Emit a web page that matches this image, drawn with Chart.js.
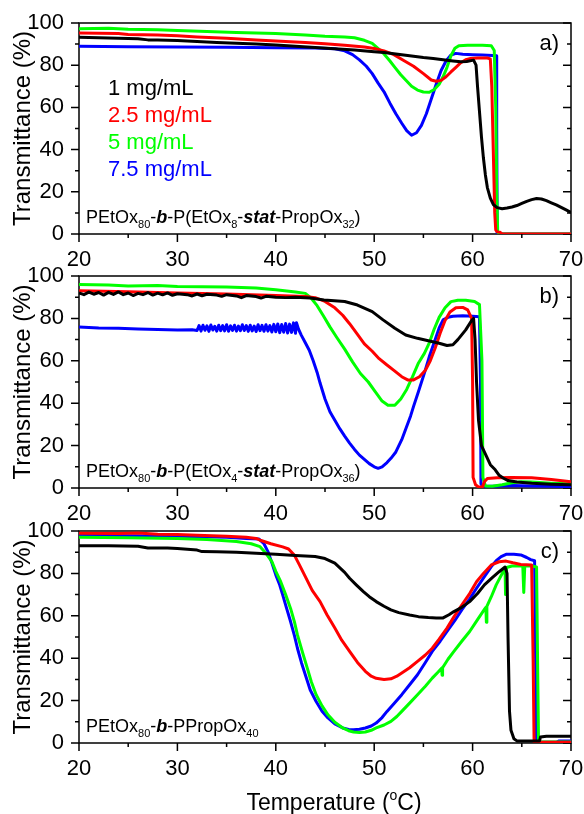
<!DOCTYPE html>
<html>
<head>
<meta charset="utf-8">
<script src="https://cdn.jsdelivr.net/npm/chart.js@4.4.1/dist/chart.umd.min.js"></script>
<style>
  html,body{margin:0;padding:0;background:#fff;}
  body{width:584px;height:814px;position:relative;overflow:hidden;}
  canvas{position:absolute;left:0;}
</style>
</head>
<body>
<canvas id="cA" width="584" height="290" style="top:0px"></canvas>
<canvas id="cB" width="584" height="290" style="top:253px"></canvas>
<canvas id="cC" width="584" height="306" style="top:508px"></canvas>
<script>
// ---------------- DATA ----------------
const xTickLabels = [20, 30, 40, 50, 60, 70];
const yTickLabels = [0, 20, 40, 60, 80, 100];
const concentrations = ['1 mg/mL', '2.5 mg/mL', '5 mg/mL', '7.5 mg/mL'];
const seriesColors = ['#000000', '#ff0000', '#00ff00', '#0000ff'];
const panelLabels = ['a)', 'b)', 'c)'];

// Panel a: PEtOx80-b-P(EtOx8-stat-PropOx32)  [temperature, transmittance]
const a_1mg = [[20,93.2],[22,93],[24,92.8],[26,92.5],[27,92],[28,92],[30,91.7],[32,91.2],[34,90.8],[36,90.4],[38,90],[40,89.6],[42,89],[44,88.4],[46,87.8],[48,87.2],[50,86.4],[51,86],[52,85.4],[53,84.8],[54,84.2],[55,83.6],[56,83.2],[57,82.6],[58,82],[58.8,81.6],[59.4,81.8],[60.1,82.4],[60.35,80],[60.5,70],[60.7,58],[60.9,46],[61.1,36],[61.3,28],[61.5,22],[61.8,17],[62.1,14],[62.5,12.5],[63,12],[63.5,12.3],[64,12.8],[64.5,13.5],[65,14.5],[65.5,15.5],[66,16.3],[66.5,16.8],[67,16.6],[67.5,15.8],[68,14.8],[68.5,13.8],[69,12.6],[69.5,11.4],[70,10.2]];
const a_2_5mg = [[20,95.3],[24,95],[25,94.6],[28,94.3],[30,94],[32,93.4],[35,92.8],[38,92],[40,91.5],[43,90.8],[45,90.2],[47,89.5],[49,88.6],[50,87.9],[51,86.8],[52,85],[53,82.2],[54,79.5],[55,76],[55.8,73],[56.3,72.4],[56.8,72.8],[57.3,74.5],[57.8,76.8],[58.3,79],[58.8,81.2],[59.3,82.6],[59.8,83.2],[60.5,83.4],[61.5,83.4],[61.8,83],[61.95,70],[62.1,40],[62.25,10],[62.35,2],[62.5,1],[62.8,0.8],[63,0],[70,0]];
const a_5mg = [[20,97.3],[23,97.5],[25,97],[28,96.8],[30,96.5],[33,96],[36,95.5],[40,95],[43,94.3],[45,93.7],[47,93.4],[48,93],[49,91.8],[49.8,90.3],[50.5,87.5],[51,85.3],[51.6,82],[52.1,79],[52.7,75.5],[53.2,73],[53.8,70],[54.4,68.2],[55,67.3],[55.6,67.2],[56.1,68.5],[56.6,71],[57,74.5],[57.4,79],[57.8,84.5],[58.2,88],[58.6,89.2],[59.5,89.5],[61,89.5],[61.9,89.2],[62.2,87],[62.35,60],[62.45,20],[62.55,1],[62.7,0],[70,0]];
const a_7_5mg = [[20,89],[25,88.8],[30,88.6],[35,88.5],[40,88.3],[44,88.2],[46,87.8],[47,86.8],[47.8,85],[48.5,82.5],[49.2,79.5],[49.8,76],[50.4,71.5],[51,67.4],[51.6,62],[52.2,57],[52.8,52.5],[53.3,49],[53.8,46.8],[54.3,48],[54.8,51.5],[55.3,57],[55.8,64],[56.3,71],[56.8,77.5],[57.3,82],[57.8,84.8],[58.3,85.6],[59,85.2],[60,85],[61,84.8],[62,84.6],[62.4,84.5],[62.45,50],[62.5,0],[70,0]];

// Panel b: PEtOx80-b-P(EtOx4-stat-PropOx36)
const b_1mg = [[20,92],[20.5,91.2],[21,92.4],[21.5,91.4],[22,92.2],[22.5,91],[23,92.3],[23.5,91.3],[24,92.5],[24.5,91.2],[25,92],[25.5,90.8],[26,91.8],[26.5,91.2],[27,92.2],[27.5,91],[28,91.9],[28.5,91.1],[29,92],[29.5,90.9],[30,91.6],[31,91.2],[31.5,90.6],[32,91.5],[32.5,90.7],[33,91.4],[34,91],[34.5,90.4],[35,91.2],[36,90.6],[36.5,89.8],[37,90.8],[38,90.3],[38.5,89.6],[39,90.4],[40,90],[41,89.8],[42,90],[43.5,89.6],[44.9,88.7],[47,88],[48.3,86.3],[49.8,83.2],[50.9,79.3],[52.1,75.4],[53.2,72.2],[54.4,70.6],[55.5,69.5],[56.6,68.3],[57.4,67.2],[58,67.6],[58.5,70],[59.3,74.6],[59.9,79],[60.1,80],[60.25,70],[60.4,50],[60.6,32],[60.9,20],[61.4,15],[61.8,11],[62.3,8.6],[62.7,6],[63.1,4.7],[63.6,3.5],[64.5,2.8],[66,2.2],[68,1.8],[70,1.5]];
const b_2_5mg = [[20,93],[25,92.6],[30,92],[35,91.5],[40,90.8],[43,90.3],[44,89.8],[45,88],[46,85],[46.8,81.5],[47.5,77.5],[48.3,72.5],[49,68],[49.8,64.5],[50.5,61],[51.3,58],[52,55.5],[52.8,52.5],[53.4,51],[54,51],[54.6,52.5],[55.2,55.5],[55.7,60],[56.2,66],[56.7,73],[57.2,79],[57.7,83],[58.3,85],[59,85.2],[59.5,84],[59.9,80],[60,50],[60.05,5],[60.3,1.5],[60.6,0.5],[61,0.5],[61.2,3],[61.5,4.5],[62.5,4.8],[64,5],[66,4.8],[68,4],[70,3]];
const b_5mg = [[20,96],[23,95.8],[25,95.3],[28,95.5],[30,95],[35,94.8],[38,94.3],[40,93.5],[42,92.5],[43,91.8],[43.6,89.5],[44.2,86],[44.8,81.5],[45.5,76],[46.2,71],[47,65.5],[47.8,59.5],[48.6,54],[49.4,50],[50.1,45.5],[50.8,41],[51.4,39],[52.1,39],[52.7,42],[53.3,46.5],[53.9,52.5],[54.5,59],[55.1,63.5],[55.6,68.5],[56.1,75],[56.6,80.5],[57.2,85],[57.8,87.9],[58.5,88.6],[59.3,88.6],[60.2,88],[60.7,86.5],[60.95,60],[61.05,5],[61.3,1],[62,0.8],[63,1.5],[64,2.5],[65,3],[66,2.8],[68,2.3],[70,2]];
const b_7_5mg = [[20,76],[22,75.5],[24,75.3],[26,75],[28,74.8],[30,74.5],[31.5,74.6],[32,74.3],[32.2,76.6],[32.4,74],[32.6,76.8],[32.8,74.4],[33,76.5],[33.2,73.9],[33.4,76.9],[33.6,74.5],[33.8,76.3],[34,74],[34.2,76.8],[34.4,74.2],[34.6,76.6],[34.8,74.1],[35,77],[35.2,73.9],[35.4,76.5],[35.6,74.3],[35.8,76.8],[36,74],[36.2,76.4],[36.4,74.2],[36.6,77],[36.8,74.3],[37,76.6],[37.2,73.9],[37.4,76.8],[37.6,74.1],[37.8,76.4],[38,73.8],[38.2,77],[38.4,74.2],[38.6,76.7],[38.8,73.9],[39,77],[39.2,74],[39.4,76.6],[39.6,73.6],[39.8,77.2],[40,73.7],[40.2,77.4],[40.4,73.3],[40.6,77.1],[40.8,73.5],[41,77.6],[41.2,73.1],[41.4,77.3],[41.6,73.4],[41.8,77.9],[42,73],[42.1,78],[42.3,75],[42.6,72],[43,68.5],[43.4,65],[43.8,60],[44.2,54.5],[44.5,49.5],[45,42],[45.5,36],[46,32],[46.5,28],[47,24.5],[47.5,21.2],[48,18.2],[48.5,15.5],[49,13.5],[49.5,11.5],[50,10],[50.4,9.3],[50.8,10],[51.3,12],[51.7,14],[52.2,17],[52.8,22.8],[53.3,29],[53.7,34],[54,38.5],[54.5,45.5],[55.1,54.2],[55.6,62],[56.2,70],[56.6,75.5],[57,79.3],[57.5,80.5],[58,81],[59,81.2],[60,81],[60.7,80.8],[60.8,50],[60.85,2],[61,0.8],[62,0.8],[64,1.2],[66,1],[68,0.8],[70,0.6]];

// Panel c: PEtOx80-b-PPropOx40
const c_1mg = [[20,93],[23,93],[26,92.8],[27,92],[29,92],[30,91.8],[32,91],[32.5,90.3],[34,90.2],[36,90],[38,89.5],[40,89],[42,88.5],[44,88],[45,87],[46,84.8],[47,80.5],[47.5,77.7],[48.2,74.5],[48.9,71.4],[49.5,69],[50.2,66.7],[51,64.5],[51.7,62.8],[52.5,61.5],[53.6,60.4],[54.5,59.6],[55.5,59.2],[56.3,59],[57,59],[57.6,60.5],[58.1,62],[58.9,64],[59.7,66.7],[60.5,70.5],[61.2,74.6],[62,78],[62.7,80.8],[63.3,83],[63.5,80],[63.6,50],[63.75,15],[63.9,6],[64.2,2],[64.5,1],[66.8,1],[66.9,2.8],[67.5,3.2],[70,3.2]];
const c_2_5mg = [[20,98.9],[24,98.8],[26,99],[28,98.5],[30,98.3],[32,98],[35,97.5],[37,97],[38,96.5],[38.5,95.5],[39.5,94],[40.7,92.5],[41.3,91.5],[41.9,88.5],[42.4,84],[43,78.5],[43.7,72],[44.5,66.7],[45.2,60.5],[46,54.2],[46.7,48.5],[47.5,43.2],[48.3,38],[49.1,33.8],[49.7,31.5],[50.2,30.5],[51,30],[51.7,30.3],[52.3,31.5],[52.8,33],[53.6,35.5],[54.4,38.5],[55.2,41.5],[55.9,44.7],[56.6,49],[57.4,54.2],[58.1,59.5],[58.9,65.1],[59.7,70.5],[60.4,76.1],[61.1,80],[61.9,84],[62.7,85.5],[63.4,85.8],[64.1,85],[64.9,84.2],[66,84],[66.15,40],[66.25,0.5],[70,0.3]];
const c_5mg = [[20,97],[25,96.8],[30,96.5],[33,96],[36,95],[37.5,94],[38.4,92.6],[39,89.5],[39.6,85.6],[40,81],[40.5,76.1],[41,70],[41.5,63.5],[41.9,57],[42.2,51],[42.7,43],[43.2,35.3],[43.6,29],[44.1,22.8],[44.7,17.5],[45.3,13.3],[46,9.8],[46.8,7.1],[47.4,5.8],[47.9,5.2],[48.5,5],[49.1,5.2],[49.7,6],[50.2,7.1],[51,8.5],[51.7,10.2],[52.3,12.5],[52.8,14.9],[53.6,18.8],[54.4,22.8],[55.2,26.8],[55.9,30.6],[56.5,33.5],[56.85,35.3],[56.9,32],[56.95,35.5],[57.5,39.5],[58.1,43.2],[58.9,48],[59.7,52.6],[60.4,57.5],[61.2,63],[61.35,64],[61.4,57],[61.45,64.5],[61.9,69],[62.4,74.6],[62.9,79],[63.3,82.4],[63.35,70],[63.45,82.8],[64,83.5],[65.1,83.5],[65.2,71],[65.3,83.5],[66,83.5],[66.5,83],[66.6,40],[66.7,0.5],[70,0.5]];
const c_7_5mg = [[20,98],[25,97.8],[30,97.5],[35,97],[37,96.5],[38.3,96.2],[38.8,94],[39.2,90.3],[39.6,85],[40,79.3],[40.4,74.5],[40.7,69.9],[41.1,63.5],[41.5,57.3],[41.9,50.5],[42.2,44.7],[42.6,38],[43,32.2],[43.5,25],[44.1,19.6],[44.7,15],[45.3,11.8],[46,9],[46.8,7.1],[47.4,6.4],[47.9,6.3],[48.5,6.5],[49.1,7.1],[49.7,8],[50.2,9.4],[50.8,12],[51.3,14.9],[52,18.5],[52.8,22.8],[53.6,27.5],[54.4,32.2],[55.2,38],[55.9,43.2],[56.7,48],[57.4,52.6],[58.2,57.8],[58.9,62.8],[59.7,68],[60.4,73],[61.2,78.5],[61.9,83.2],[62.4,86],[62.9,87.9],[63.4,89],[64.2,89],[64.9,88.7],[65.5,87.5],[65.9,86.5],[66.3,86],[66.4,40],[66.5,0.5],[68.5,0.3],[68.8,1],[70,1]];

// ---------------- RENDERING ----------------
const FONT = "'Liberation Sans', Arial, Helvetica, sans-serif";

function toXY(arr){ return arr.map(p => ({x:p[0], y:p[1]})); }

function drawRich(ctx, segs, x, y, size){
  let cx = x;
  segs.forEach(s => {
    const sz = s.sub ? Math.round(size*0.62) : size;
    const style = s.bi ? 'italic bold ' : '';
    ctx.font = style + sz + 'px ' + FONT;
    const dy = s.sub ? size*0.3 : 0;
    ctx.fillText(s.t, cx, y + dy);
    cx += ctx.measureText(s.t).width;
  });
  return cx - x;
}
function measureRich(ctx, segs, size){
  let w = 0;
  segs.forEach(s => {
    const sz = (s.sub||s.sup) ? Math.round(size*0.62) : size;
    ctx.font = (s.bi ? 'italic bold ' : '') + sz + 'px ' + FONT;
    w += ctx.measureText(s.t).width;
  });
  return w;
}

const framePlugin = {
  id: 'frame',
  beforeDatasetsDraw(chart){
    const {ctx, chartArea:{left,right,top,bottom}, scales:{x,y}} = chart;
    ctx.save();
    ctx.strokeStyle = '#000';
    ctx.lineWidth = 1.5;
    ctx.strokeRect(left, top, right-left, bottom-top);
    ctx.beginPath();
    y.ticks.forEach(t => {
      const py = y.getPixelForValue(t.value);
      const len = yTickLabels.includes(t.value) ? 8 : 4;
      ctx.moveTo(left, py); ctx.lineTo(left-len, py);
      ctx.moveTo(right, py); ctx.lineTo(right-len, py);
    });
    x.ticks.forEach(t => {
      const px = x.getPixelForValue(t.value);
      const len = xTickLabels.includes(t.value) ? 8 : 4;
      ctx.moveTo(px, bottom); ctx.lineTo(px, bottom+len);
    });
    ctx.stroke();
    ctx.restore();
  },
  afterDatasetsDraw(chart, args, opts){
    const {ctx, chartArea:{left,right,top,bottom}} = chart;
    ctx.save();
    ctx.fillStyle = '#000';
    // panel label
    ctx.font = '22px ' + FONT;
    ctx.textAlign = 'right';
    ctx.textBaseline = 'middle';
    ctx.fillText(opts.label, right - 12, top + 21);
    // sample annotation
    ctx.textAlign = 'left';
    ctx.textBaseline = 'alphabetic';
    drawRich(ctx, opts.sample, left + 7, bottom - 11, 18);
    // legend
    if (opts.legend){
      ctx.font = '22px ' + FONT;
      concentrations.forEach((c, i) => {
        ctx.fillStyle = seriesColors[i];
        ctx.fillText(c, left + 29, top + 72 + i*27);
      });
    }
    // x title
    if (opts.xTitle){
      ctx.fillStyle = '#000';
      const segs = [{t:'Temperature ('},{t:'o',sup:true},{t:'C)'}];
      const w = measureRich(ctx, segs, 23);
      let cx = 334 - w/2;
      const by = bottom + 67;
      segs.forEach(s => {
        const sz = s.sup ? 14 : 23;
        ctx.font = sz + 'px ' + FONT;
        ctx.fillText(s.t, cx, by + (s.sup ? -10 : 0));
        cx += ctx.measureText(s.t).width;
      });
    }
    ctx.restore();
  }
};

function makePanel(id, series, label, sample, extra, padBottom){
  const datasets = series.map((s, i) => ({
    label: concentrations[i],
    data: toXY(s),
    borderColor: seriesColors[i],
    backgroundColor: seriesColors[i],
    borderWidth: 3,
    borderJoinStyle: 'round',
    pointRadius: 0,
    tension: 0,
    fill: false
  }));
  return new Chart(document.getElementById(id), {
    type: 'line',
    data: { datasets },
    plugins: [framePlugin],
    options: {
      responsive: false,
      animation: false,
      devicePixelRatio: 1,
      layout: { padding: { left: 0, right: 13, top: 23, bottom: padBottom } },
      plugins: {
        legend: { display: false },
        tooltip: { enabled: false },
        frame: Object.assign({ label, sample }, extra)
      },
      scales: {
        x: {
          type: 'linear', min: 20, max: 70,
          grid: { display: false, drawTicks: false },
          border: { display: false },
          ticks: {
            stepSize: 5, autoSkip: false, maxRotation: 0, padding: 13,
            color: '#000', font: { family: FONT, size: 22 },
            callback: v => xTickLabels.includes(v) ? String(v) : ''
          },
          afterFit: s => { s.height = 40; s.paddingLeft = 0; s.paddingRight = 0; }
        },
        y: {
          type: 'linear', min: 0, max: 100,
          grid: { display: false, drawTicks: false },
          border: { display: false },
          ticks: {
            stepSize: 10, autoSkip: false, padding: 15,
            color: '#000', font: { family: FONT, size: 22 },
            callback: v => yTickLabels.includes(v) ? String(v) : ''
          },
          title: {
            display: true, text: 'Transmittance (%)', color: '#000',
            font: { family: FONT, size: 24 }, padding: { top: 9, bottom: 0 }
          },
          afterFit: s => { s.width = 79; s.paddingTop = 0; s.paddingBottom = 0; }
        }
      }
    }
  });
}

const sampleA = [{t:'PEtOx'},{t:'80',sub:true},{t:'-'},{t:'b',bi:true},{t:'-P(EtOx'},{t:'8',sub:true},{t:'-'},{t:'stat',bi:true},{t:'-PropOx'},{t:'32',sub:true},{t:')'}];
const sampleB = [{t:'PEtOx'},{t:'80',sub:true},{t:'-'},{t:'b',bi:true},{t:'-P(EtOx'},{t:'4',sub:true},{t:'-'},{t:'stat',bi:true},{t:'-PropOx'},{t:'36',sub:true},{t:')'}];
const sampleC = [{t:'PEtOx'},{t:'80',sub:true},{t:'-'},{t:'b',bi:true},{t:'-PPropOx'},{t:'40',sub:true}];

makePanel('cA', [a_1mg, a_2_5mg, a_5mg, a_7_5mg], panelLabels[0], sampleA, {legend:true}, 16);
makePanel('cB', [b_1mg, b_2_5mg, b_5mg, b_7_5mg], panelLabels[1], sampleB, {}, 15);
makePanel('cC', [c_1mg, c_2_5mg, c_5mg, c_7_5mg], panelLabels[2], sampleC, {xTitle:true}, 31);
</script>
</body>
</html>
